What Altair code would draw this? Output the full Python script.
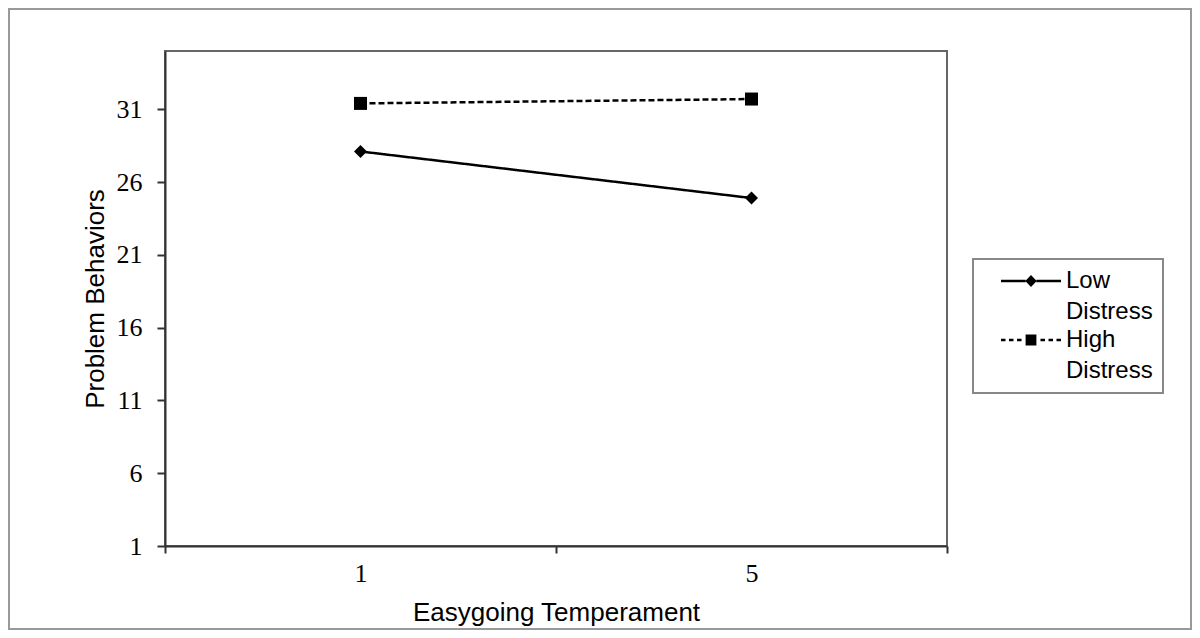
import altair as alt
import pandas as pd

# ---- data ----
temperament = ["1", "5"]
series = ["Low Distress", "High Distress"]
low_distress = [28.1, 24.9]
high_distress = [31.4, 31.7]
y_ticks = [1, 6, 11, 16, 21, 26, 31]
y_domain = [1, 35]

rows = []
for name, vals in zip(series, [low_distress, high_distress]):
    for t, v in zip(temperament, vals):
        rows.append({"Temperament": t, "Series": name, "Value": v})
df = pd.DataFrame(rows)

SERIF = "Liberation Serif"
SANS = "Liberation Sans"
AXIS_COLOR = "#333333"

x_enc = alt.X(
    "Temperament:O",
    scale=alt.Scale(type="band", domain=temperament, paddingInner=0, paddingOuter=0),
    axis=alt.Axis(
        title="Easygoing Temperament",
        labelAngle=0,
        tickBand="extent",
        labelFont=SERIF,
        labelFontSize=26,
        labelColor="black",
        labelPadding=7,
        tickSize=7,
        tickWidth=2,
        tickColor=AXIS_COLOR,
        domainColor=AXIS_COLOR,
        domainWidth=2,
        titleFont=SANS,
        titleFontSize=26,
        titleFontWeight="normal",
        titleColor="black",
        titlePadding=13,
        grid=False,
    ),
)
y_enc = alt.Y(
    "Value:Q",
    scale=alt.Scale(domain=y_domain, nice=False, zero=False),
    axis=alt.Axis(
        title="Problem Behaviors",
        values=y_ticks,
        labelFont=SERIF,
        labelFontSize=26,
        labelColor="black",
        labelPadding=15,
        tickSize=8,
        tickWidth=2,
        tickColor=AXIS_COLOR,
        domainColor=AXIS_COLOR,
        domainWidth=2,
        titleFont=SANS,
        titleFontSize=26,
        titleFontWeight="normal",
        titleColor="black",
        titlePadding=8,
        grid=False,
    ),
)

lines = alt.Chart(df).mark_line(color="black", strokeWidth=2.5).encode(
    x=x_enc,
    y=y_enc,
    detail="Series:N",
    strokeDash=alt.StrokeDash(
        "Series:N",
        scale=alt.Scale(domain=series, range=[[1, 0], [6, 3]]),
        legend=None,
    ),
)

points = alt.Chart(df).mark_point(filled=True, color="black", opacity=1).encode(
    x=x_enc,
    y=y_enc,
    shape=alt.Shape(
        "Series:N",
        scale=alt.Scale(domain=series, range=["diamond", "square"]),
        legend=None,
    ),
    size=alt.Size(
        "Series:O",
        scale=alt.Scale(domain=series, range=[170, 169]),
        legend=None,
    ),
)

# legend symbols: "line + marker" drawn as filled path pieces (unit space, scale 6px)
low_path = (
    "M-5,-0.2L-0.9,-0.2L-0.9,0.2L-5,0.2Z "
    "M0.9,-0.2L5,-0.2L5,0.2L0.9,0.2Z "
    "M0,-1L0.95,0L0,1L-0.95,0Z"
)
high_path = (
    "M-5,-0.2L-4.25,-0.2L-4.25,0.2L-5,0.2Z "
    "M-3.67,-0.2L-2.92,-0.2L-2.92,0.2L-3.67,0.2Z "
    "M-2.33,-0.2L-1.58,-0.2L-1.58,0.2L-2.33,0.2Z "
    "M1.58,-0.2L2.33,-0.2L2.33,0.2L1.58,0.2Z "
    "M2.92,-0.2L3.67,-0.2L3.67,0.2L2.92,0.2Z "
    "M4.25,-0.2L5,-0.2L5,0.2L4.25,0.2Z "
    "M-0.9,-0.9L0.9,-0.9L0.9,0.9L-0.9,0.9Z"
)

NBSP = "\u00a0"
legend = alt.Legend(
    title=None,
    orient="none",
    legendX=808,
    legendY=208,
    strokeColor="#888888",
    fillColor="white",
    symbolSize=144,
    symbolOffset=36,
    symbolOpacity=1,
    symbolFillColor="black",
    symbolStrokeWidth=0,
    labelOffset=23,
    labelFont=SANS,
    labelFontSize=24,
    labelColor="black",
    labelExpr=f"[split(datum.label, ' ')[0], split(datum.label, ' ')[1] + '{NBSP * 3}']",
)

legend_layer = alt.Chart(df).mark_point(filled=True, fill="black", opacity=0).encode(
    x=x_enc,
    y=y_enc,
    shape=alt.Shape(
        "Series:N",
        scale=alt.Scale(domain=series, range=[low_path, high_path]),
        legend=legend,
    ),
)

frame = alt.Chart(df).mark_rect(fill=None, stroke="#999999", strokeWidth=2).encode(
    x=alt.value(-156), x2=alt.value(1184 - 157 - 1), y=alt.value(-42), y2=alt.value(622 - 43 - 1)
)

chart = (
    alt.layer(lines, points, legend_layer, frame)
    .resolve_scale(shape="independent")
    .properties(
        width=782,
        height=495,
        autosize=alt.AutoSizeParams(type="none"),
        padding={"left": 157, "top": 43, "right": 245, "bottom": 84},
        background="white",
    )
    .configure(style={"guide-label": {"lineHeight": 31}})
    .configure_view(stroke="#666666", strokeWidth=2)
    .configure_legend(padding=10, strokeColor="#888888", strokeWidth=2, rowPadding=4)
)

chart.save("out.html", embed_options={"renderer": "svg", "actions": False})
